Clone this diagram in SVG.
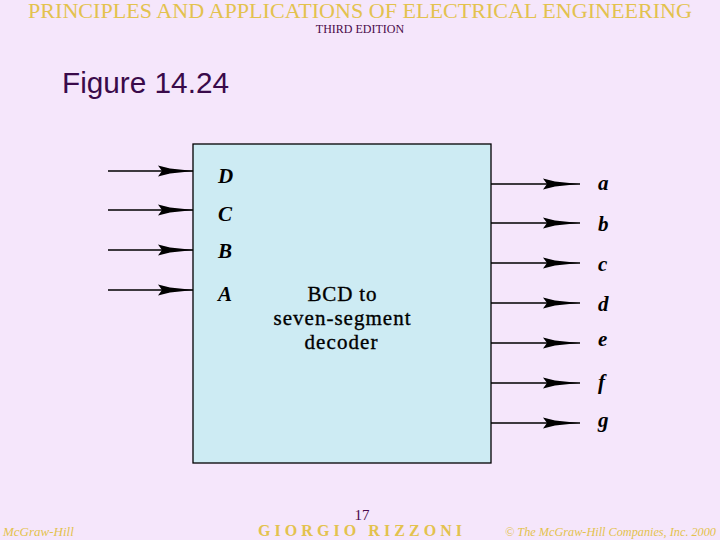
<svg xmlns="http://www.w3.org/2000/svg" xmlns:xlink="http://www.w3.org/1999/xlink" width="720" height="540" viewBox="0 0 720 540">
<style>
.hdr{font-family:"Liberation Serif",serif;fill:#e3c24e}
.pur{font-family:"Liberation Serif",serif;fill:#4a0a4a}
.lbl{font-family:"Liberation Serif",serif;font-style:italic;font-weight:bold;font-size:21px;fill:#000}
.ctr{font-family:"Liberation Serif",serif;font-size:21px;fill:#000;text-anchor:middle;stroke:#000;stroke-width:0.35}
.wire{stroke:#000;stroke-width:1.3;fill:none}
</style>
<defs>
<path id="ah" d="M0,-5.5 L12,-2.6 L36,0 L12,2.6 L0,5.5 L4,0 Z" fill="#000"/>
</defs>
<rect width="720" height="540" fill="#f5e6fb"/>
<text class="hdr" x="360" y="18" font-size="21" text-anchor="middle" textLength="664" lengthAdjust="spacingAndGlyphs">PRINCIPLES AND APPLICATIONS OF ELECTRICAL ENGINEERING</text>
<text class="pur" x="360" y="33" font-size="12" text-anchor="middle">THIRD EDITION</text>
<text x="62" y="93" font-family="Liberation Sans,Arial,sans-serif" font-size="29" fill="#3a0a4a" textLength="167" lengthAdjust="spacingAndGlyphs">Figure 14.24</text>

<g id="decoder">
<rect x="193" y="144" width="298" height="319" fill="#cdebf3" stroke="#000" stroke-width="1.3"/>
<text class="ctr" x="342" y="301" textLength="69" lengthAdjust="spacing">BCD to</text>
<text class="ctr" x="342" y="325" textLength="137" lengthAdjust="spacing">seven-segment</text>
<text class="ctr" x="341" y="349" textLength="73" lengthAdjust="spacing">decoder</text>
<text class="lbl" x="218" y="183">D</text>
<text class="lbl" x="218" y="221">C</text>
<text class="lbl" x="218" y="258">B</text>
<text class="lbl" x="218" y="301">A</text>
</g>

<g id="connectors">
<path class="wire" d="M108,171H193M108,210H193M108,250H193M108,290H193"/>
<use xlink:href="#ah" x="158" y="171"/>
<use xlink:href="#ah" x="158" y="210"/>
<use xlink:href="#ah" x="158" y="250"/>
<use xlink:href="#ah" x="158" y="290"/>
<path class="wire" d="M491,184H580M491,223H580M491,263H580M491,303H580M491,343H580M491,383H580M491,423H580"/>
<use xlink:href="#ah" x="543" y="184"/>
<use xlink:href="#ah" x="543" y="223"/>
<use xlink:href="#ah" x="543" y="263"/>
<use xlink:href="#ah" x="543" y="303"/>
<use xlink:href="#ah" x="543" y="343"/>
<use xlink:href="#ah" x="543" y="383"/>
<use xlink:href="#ah" x="543" y="423"/>
</g>

<g id="outputs">
<text class="lbl" x="598" y="190">a</text>
<text class="lbl" x="598" y="231">b</text>
<text class="lbl" x="598" y="271">c</text>
<text class="lbl" x="598" y="311">d</text>
<text class="lbl" x="598" y="346">e</text>
<text class="lbl" x="598" y="389">f</text>
<text class="lbl" x="598" y="427">g</text>
</g>

<text class="pur" x="362" y="520" font-size="15" text-anchor="middle">17</text>
<text class="hdr" x="3" y="536" font-size="13" font-style="italic">McGraw-Hill</text>
<text class="hdr" x="258" y="536" font-size="16" font-weight="bold" textLength="204" lengthAdjust="spacing">GIORGIO RIZZONI</text>
<text class="hdr" x="505" y="536" font-size="12.5" font-style="italic" textLength="211" lengthAdjust="spacingAndGlyphs">© The McGraw-Hill Companies, Inc. 2000</text>
</svg>
